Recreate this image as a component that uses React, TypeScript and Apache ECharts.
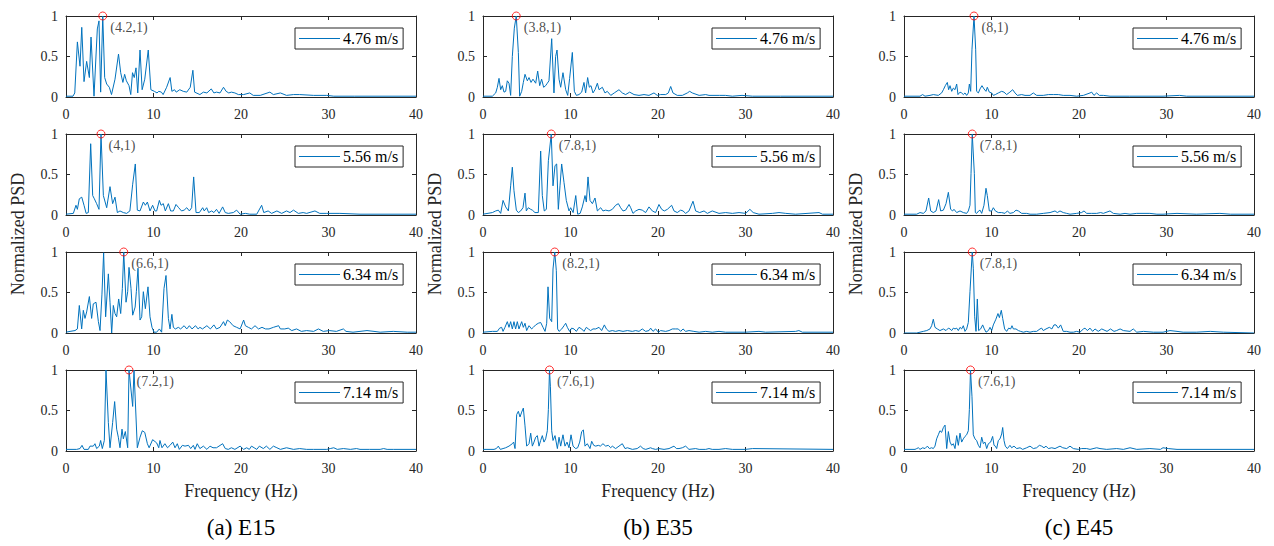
import React, { useEffect, useRef } from 'react';
import * as echarts from 'echarts';

const captions = ['(a) E15', '(b) E35', '(c) E45'];
const speeds = ['4.76 m/s', '5.56 m/s', '6.34 m/s', '7.14 m/s'];
const xTicks = { min: 0, max: 40, interval: 10 };
const yTicks = { min: 0, max: 1, interval: 0.5 };
// peak frequency per column (E15, E35, E45) and row (speed)
const peakFreqs = [
  [4.2, 4, 6.6, 7.2],
  [3.8, 7.8, 8.2, 7.6],
  [8, 7.8, 7.8, 7.6],
];

// ---- E15 ----
const e15_476 = [[0,0.01],[0.8,0.01],[1.0,0.05],[1.3,0.68],[1.6,0.38],[1.8,0.86],[2.06,0.19],[2.36,0.44],[2.67,0.24],[2.86,0.74],[3.2,0.01],[3.58,0.84],[3.77,0.94],[3.96,0.06],[4.2,1.0],[4.42,0.24],[4.65,0.16],[4.95,0.12],[5.2,0.03],[5.6,0.22],[6.0,0.53],[6.25,0.3],[6.5,0.18],[6.7,0.28],[6.9,0.2],[7.2,0.14],[7.4,0.03],[7.6,0.3],[7.8,0.24],[8.0,0.36],[8.2,0.05],[8.46,0.58],[8.7,0.09],[9.0,0.22],[9.4,0.58],[9.7,0.09],[10.1,0.07],[10.4,0.05],[10.6,0.07],[10.9,0.06],[11.1,0.03],[11.5,0.12],[11.9,0.24],[12.1,0.07],[12.4,0.09],[12.6,0.06],[13.0,0.09],[13.4,0.07],[13.8,0.06],[14.2,0.12],[14.5,0.33],[14.7,0.06],[15.3,0.03],[15.7,0.06],[16.1,0.05],[16.6,0.1],[16.9,0.05],[17.2,0.06],[17.6,0.05],[18.0,0.12],[18.3,0.07],[18.6,0.05],[18.9,0.06],[19.3,0.05],[19.7,0.03],[20.3,0.03],[21.0,0.05],[21.4,0.02],[22.2,0.02],[23.3,0.06],[23.7,0.03],[24.5,0.05],[25.2,0.02],[26.0,0.03],[26.7,0.03],[28.3,0.02],[29.8,0.02],[30.6,0.01],[33,0.01],[36,0.01],[40,0.01]];
const e15_556 = [[0,0.01],[0.84,0.02],[1.14,0.12],[1.3,0.07],[1.52,0.2],[1.8,0.22],[2.06,0.12],[2.3,0.02],[2.55,0.03],[2.82,0.88],[3.05,0.24],[3.24,0.2],[3.5,0.14],[3.77,0.07],[4.0,1.0],[4.27,0.24],[4.65,0.09],[5.03,0.35],[5.33,0.14],[5.6,0.22],[5.87,0.03],[6.17,0.05],[6.55,0.03],[6.93,0.02],[7.3,0.05],[7.62,0.38],[7.92,0.63],[8.15,0.06],[8.46,0.05],[8.84,0.16],[9.07,0.12],[9.3,0.16],[9.6,0.05],[9.9,0.12],[10.17,0.05],[10.36,0.05],[10.67,0.18],[10.86,0.12],[11.12,0.14],[11.35,0.05],[11.7,0.14],[11.96,0.05],[12.27,0.05],[12.57,0.13],[12.88,0.09],[13.2,0.05],[13.5,0.06],[13.8,0.09],[14.1,0.05],[14.36,0.09],[14.59,0.47],[14.86,0.03],[15.24,0.03],[15.62,0.09],[15.8,0.05],[16.08,0.09],[16.3,0.03],[16.65,0.05],[16.9,0.03],[17.2,0.07],[17.5,0.02],[17.9,0.1],[18.2,0.03],[18.55,0.02],[19.12,0.03],[19.5,0.06],[19.9,0.01],[20.5,0.02],[21.0,0.01],[21.8,0.01],[22.36,0.12],[22.6,0.03],[23.1,0.05],[23.5,0.02],[24.1,0.05],[24.65,0.02],[25.2,0.05],[25.6,0.03],[26.0,0.06],[26.55,0.02],[27.1,0.03],[27.5,0.02],[28.45,0.05],[29.0,0.02],[29.8,0.02],[31.3,0.02],[33.6,0.01],[40,0.01]];
const e15_634 = [[0,0.01],[0.46,0.02],[1.03,0.03],[1.3,0.05],[1.52,0.34],[1.79,0.05],[1.98,0.28],[2.17,0.18],[2.36,0.26],[2.67,0.45],[2.93,0.18],[3.12,0.36],[3.43,0.38],[3.7,0.14],[3.89,0.03],[4.11,0.48],[4.3,0.99],[4.53,0.2],[4.84,0.73],[5.03,0.38],[5.22,0.0],[5.41,0.34],[5.6,0.24],[5.79,0.2],[6.02,0.42],[6.25,0.24],[6.44,0.55],[6.6,1.0],[6.86,0.38],[7.05,0.51],[7.2,0.81],[7.43,0.55],[7.62,0.22],[7.9,0.32],[8.04,0.51],[8.23,0.8],[8.46,0.16],[8.65,0.2],[8.84,0.51],[9.07,0.3],[9.37,0.57],[9.6,0.2],[9.83,0.07],[10.06,0.01],[10.36,0.01],[10.67,0.05],[10.93,0.01],[11.2,0.55],[11.43,0.71],[11.7,0.18],[11.89,0.05],[12.1,0.23],[12.27,0.07],[12.5,0.05],[12.84,0.07],[13.1,0.05],[13.5,0.09],[13.8,0.05],[14.1,0.09],[14.4,0.05],[14.8,0.09],[15.1,0.05],[15.3,0.07],[15.6,0.05],[16.1,0.09],[16.5,0.05],[16.9,0.1],[17.2,0.05],[17.6,0.07],[18.0,0.14],[18.2,0.09],[18.44,0.16],[18.7,0.14],[19.1,0.09],[19.5,0.07],[19.9,0.05],[20.3,0.16],[20.5,0.09],[20.84,0.07],[21.2,0.05],[21.6,0.09],[22.0,0.05],[22.4,0.07],[22.8,0.05],[23.2,0.05],[23.7,0.07],[24.3,0.09],[24.5,0.05],[25.0,0.05],[25.4,0.06],[25.8,0.03],[26.35,0.05],[26.9,0.02],[27.5,0.03],[28.3,0.02],[28.85,0.05],[29.4,0.02],[30.1,0.03],[30.9,0.02],[31.7,0.05],[32.0,0.02],[32.8,0.01],[33.6,0.02],[34.4,0.03],[35.2,0.02],[35.9,0.01],[37.4,0.02],[39,0.01],[40,0.01]];
const e15_714 = [[0,0.02],[1.22,0.02],[1.6,0.03],[1.83,0.07],[2.06,0.02],[2.55,0.02],[2.74,0.06],[3.12,0.06],[3.31,0.09],[3.5,0.03],[3.81,0.06],[3.96,0.13],[4.15,0.03],[4.38,0.13],[4.57,1.0],[4.84,0.35],[5.03,0.04],[5.33,0.35],[5.56,0.61],[5.79,0.27],[5.98,0.17],[6.17,0.04],[6.4,0.27],[6.55,0.15],[6.78,0.24],[7.05,0.04],[7.2,1.0],[7.62,0.55],[7.77,1.0],[8.15,0.04],[8.46,0.17],[8.72,0.25],[9.0,0.23],[9.3,0.09],[9.5,0.04],[9.9,0.14],[10.36,0.1],[10.6,0.04],[10.74,0.13],[10.97,0.04],[11.3,0.09],[11.6,0.04],[11.89,0.07],[12.2,0.11],[12.46,0.04],[12.72,0.09],[12.95,0.02],[13.3,0.07],[13.6,0.06],[14.0,0.07],[14.25,0.03],[14.55,0.07],[14.74,0.02],[15.0,0.09],[15.3,0.03],[15.7,0.06],[16.1,0.02],[16.46,0.06],[16.8,0.04],[17.2,0.04],[17.9,0.09],[18.2,0.03],[18.55,0.02],[18.9,0.04],[19.3,0.02],[19.9,0.06],[20.3,0.02],[20.65,0.04],[20.95,0.02],[21.2,0.06],[21.5,0.04],[21.8,0.02],[22.1,0.06],[22.55,0.03],[22.9,0.06],[23.3,0.02],[23.7,0.06],[24.1,0.04],[24.5,0.02],[25.2,0.04],[26.0,0.02],[26.7,0.03],[27.5,0.02],[28.3,0.02],[29.8,0.02],[30.2,0.03],[30.6,0.04],[31.0,0.02],[31.7,0.03],[32.5,0.02],[33.2,0.03],[33.6,0.02],[34.7,0.02],[35.9,0.02],[36.3,0.03],[36.7,0.02],[37.4,0.02],[40,0.02]];

// ---- E35 ----
const e35_476 = [[0,0.01],[1.07,0.01],[1.45,0.05],[1.64,0.12],[1.83,0.23],[2.02,0.09],[2.21,0.14],[2.4,0.06],[2.59,0.07],[2.78,0.2],[2.97,0.17],[3.16,0.02],[3.35,0.5],[3.58,0.85],[3.8,1.0],[4.04,0.55],[4.19,0.01],[4.42,0.07],[4.61,0.18],[4.8,0.28],[5.07,0.2],[5.26,0.24],[5.49,0.18],[5.71,0.22],[6.02,0.17],[6.25,0.32],[6.48,0.14],[6.7,0.22],[6.93,0.12],[7.16,0.14],[7.35,0.17],[7.54,0.2],[7.85,0.72],[8.11,0.05],[8.3,0.5],[8.46,0.58],[8.69,0.22],[8.88,0.12],[9.14,0.3],[9.45,0.09],[9.68,0.02],[9.9,0.23],[10.21,0.55],[10.44,0.07],[10.67,0.02],[10.97,0.03],[11.28,0.06],[11.54,0.18],[11.73,0.05],[11.96,0.24],[12.15,0.12],[12.34,0.14],[12.57,0.05],[12.8,0.09],[13.07,0.17],[13.26,0.09],[13.64,0.12],[13.94,0.05],[14.2,0.07],[14.6,0.02],[15.0,0.05],[15.54,0.09],[15.92,0.05],[16.3,0.03],[16.76,0.06],[17.26,0.03],[17.83,0.02],[18.4,0.03],[18.97,0.02],[19.54,0.05],[19.92,0.02],[20.3,0.03],[20.88,0.03],[21.18,0.05],[21.45,0.13],[21.71,0.05],[22.2,0.02],[22.78,0.02],[23.35,0.05],[23.62,0.07],[23.92,0.05],[24.7,0.02],[25.45,0.03],[25.83,0.02],[27.0,0.02],[27.7,0.02],[28.5,0.01],[29.6,0.02],[30.8,0.01],[34,0.01],[40,0.01]];
const e35_556 = [[0,0.01],[1.07,0.03],[1.45,0.05],[1.75,0.06],[2.02,0.02],[2.29,0.18],[2.59,0.1],[2.9,0.05],[3.16,0.36],[3.35,0.59],[3.54,0.3],[3.81,0.06],[4.04,0.03],[4.3,0.05],[4.57,0.09],[4.8,0.27],[4.95,0.05],[5.18,0.09],[5.45,0.07],[5.64,0.06],[5.94,0.03],[6.32,0.03],[6.59,0.79],[6.78,0.24],[7.0,0.05],[7.24,0.07],[7.47,0.67],[7.8,1.0],[8.0,0.36],[8.23,0.61],[8.42,0.63],[8.61,0.07],[8.8,0.36],[8.99,0.63],[9.26,0.4],[9.52,0.18],[9.83,0.05],[10.02,0.09],[10.3,0.03],[10.6,0.24],[10.82,0.01],[11.1,0.02],[11.35,0.1],[11.66,0.24],[11.81,0.16],[12.0,0.47],[12.23,0.18],[12.5,0.14],[12.8,0.21],[13.07,0.05],[13.45,0.09],[13.71,0.05],[14.02,0.06],[14.4,0.05],[14.78,0.07],[15.16,0.12],[15.47,0.14],[15.73,0.09],[16.0,0.05],[16.3,0.06],[16.69,0.13],[16.88,0.09],[17.14,0.02],[17.45,0.05],[17.83,0.07],[18.2,0.06],[18.59,0.03],[18.97,0.1],[19.35,0.05],[19.73,0.03],[20.11,0.13],[20.42,0.07],[20.72,0.05],[21.07,0.07],[21.56,0.12],[21.83,0.05],[22.2,0.03],[22.59,0.06],[22.86,0.05],[23.16,0.02],[23.54,0.05],[24.0,0.17],[24.3,0.05],[24.76,0.03],[25.26,0.05],[25.64,0.02],[26.2,0.05],[26.97,0.02],[27.73,0.03],[28.5,0.02],[29.26,0.03],[30.02,0.02],[30.5,0.07],[30.88,0.03],[31.54,0.01],[33.07,0.02],[33.83,0.03],[34.6,0.02],[35.73,0.01],[38.4,0.03],[38.8,0.01],[40,0.01]];
const e35_634 = [[0,0.01],[1.07,0.02],[1.64,0.02],[1.9,0.06],[2.13,0.07],[2.29,0.02],[2.51,0.07],[2.78,0.14],[2.97,0.07],[3.16,0.14],[3.35,0.05],[3.54,0.14],[3.73,0.05],[3.92,0.14],[4.11,0.05],[4.42,0.14],[4.61,0.07],[4.8,0.12],[4.99,0.03],[5.26,0.09],[5.56,0.05],[5.75,0.07],[6.02,0.1],[6.32,0.12],[6.59,0.13],[6.86,0.07],[7.09,0.02],[7.28,0.12],[7.43,0.57],[7.62,0.18],[7.85,0.14],[8.0,0.79],[8.2,1.0],[8.38,0.77],[8.53,0.05],[8.69,0.02],[9.0,0.05],[9.26,0.09],[9.45,0.12],[9.64,0.07],[9.9,0.02],[10.13,0.06],[10.4,0.05],[10.67,0.02],[10.97,0.07],[11.28,0.05],[11.54,0.02],[11.81,0.07],[12.04,0.05],[12.3,0.03],[12.57,0.05],[12.88,0.05],[13.26,0.07],[13.56,0.03],[13.87,0.1],[14.1,0.05],[14.4,0.02],[14.78,0.03],[15.16,0.02],[15.54,0.03],[16.0,0.02],[16.5,0.03],[17.07,0.02],[17.45,0.03],[17.83,0.02],[18.2,0.05],[18.59,0.02],[18.97,0.03],[19.16,0.06],[19.43,0.02],[19.73,0.05],[20.04,0.01],[20.3,0.03],[20.88,0.02],[21.26,0.03],[21.64,0.05],[22.02,0.05],[22.32,0.05],[22.59,0.02],[22.86,0.05],[23.16,0.02],[23.54,0.03],[24.1,0.02],[24.7,0.01],[25.45,0.02],[26.2,0.01],[26.97,0.02],[27.73,0.01],[30,0.01],[31.54,0.02],[32.3,0.01],[35.73,0.02],[36.1,0.03],[36.5,0.01],[40,0.01]];
const e35_714 = [[0,0.02],[1.26,0.02],[1.52,0.03],[1.75,0.06],[1.98,0.02],[2.29,0.03],[2.59,0.04],[2.97,0.06],[3.35,0.09],[3.5,0.11],[3.66,0.03],[3.85,0.45],[4.04,0.49],[4.23,0.42],[4.42,0.48],[4.61,0.53],[4.8,0.31],[4.99,0.06],[5.26,0.09],[5.45,0.22],[5.64,0.06],[5.83,0.11],[6.02,0.17],[6.21,0.19],[6.4,0.06],[6.59,0.13],[6.78,0.19],[6.97,0.11],[7.16,0.15],[7.35,0.25],[7.47,0.51],[7.6,1.0],[7.7,0.8],[7.85,0.25],[8.0,0.13],[8.23,0.19],[8.5,0.03],[8.69,0.17],[8.88,0.06],[9.14,0.2],[9.37,0.06],[9.6,0.11],[9.83,0.04],[10.06,0.2],[10.29,0.06],[10.59,0.03],[10.82,0.04],[11.05,0.11],[11.28,0.24],[11.47,0.26],[11.66,0.06],[11.92,0.09],[12.23,0.03],[12.42,0.12],[12.65,0.07],[12.88,0.06],[13.18,0.07],[13.41,0.06],[13.71,0.09],[14.02,0.06],[14.32,0.07],[14.59,0.04],[14.78,0.06],[15.16,0.03],[15.54,0.06],[15.92,0.09],[16.23,0.03],[16.5,0.04],[17.07,0.02],[17.62,0.03],[18.0,0.06],[18.3,0.03],[18.6,0.02],[19.16,0.04],[19.35,0.03],[19.73,0.02],[20.11,0.03],[20.69,0.02],[21.26,0.03],[21.83,0.06],[22.1,0.03],[22.4,0.03],[22.78,0.04],[23.16,0.06],[23.54,0.02],[24.3,0.03],[24.7,0.02],[25.45,0.02],[25.83,0.03],[26.2,0.02],[26.97,0.02],[27.73,0.03],[28.5,0.02],[30,0.02],[30.8,0.03],[40,0.02]];

// ---- E45 ----
const e45_476 = [[0,0.01],[1.83,0.01],[2.13,0.03],[2.4,0.01],[2.97,0.02],[3.35,0.03],[3.92,0.02],[4.3,0.05],[4.5,0.09],[4.72,0.14],[4.95,0.18],[5.1,0.09],[5.26,0.14],[5.45,0.07],[5.64,0.11],[5.83,0.09],[6.02,0.16],[6.17,0.03],[6.4,0.06],[6.59,0.05],[6.78,0.03],[6.97,0.05],[7.16,0.02],[7.35,0.05],[7.47,0.16],[7.62,0.07],[7.77,0.59],[8.0,1.0],[8.19,0.59],[8.3,0.07],[8.5,0.05],[8.69,0.1],[8.91,0.14],[9.14,0.1],[9.37,0.07],[9.52,0.12],[9.75,0.06],[10.02,0.05],[10.21,0.02],[10.44,0.03],[10.78,0.05],[11.16,0.07],[11.43,0.06],[11.73,0.03],[12.1,0.06],[12.42,0.09],[12.69,0.05],[12.95,0.02],[13.45,0.03],[13.83,0.02],[14.4,0.02],[14.78,0.05],[15.16,0.02],[15.92,0.02],[16.5,0.03],[17.07,0.03],[17.64,0.03],[18.2,0.02],[18.97,0.02],[19.73,0.01],[20.5,0.02],[21.26,0.05],[21.45,0.06],[21.71,0.02],[22.02,0.05],[22.32,0.02],[22.78,0.02],[23.54,0.01],[25.8,0.01],[29.6,0.01],[31.5,0.02],[32.3,0.01],[40,0.01]];
const e45_556 = [[0,0.01],[1.45,0.01],[1.83,0.03],[2.21,0.02],[2.51,0.05],[2.82,0.21],[3.05,0.05],[3.35,0.03],[3.66,0.05],[3.96,0.19],[4.19,0.05],[4.5,0.06],[4.8,0.14],[5.07,0.28],[5.33,0.07],[5.56,0.05],[5.71,0.07],[6.02,0.03],[6.4,0.05],[6.78,0.03],[7.16,0.02],[7.35,0.05],[7.54,0.12],[7.66,0.51],[7.8,1.0],[8.04,0.51],[8.15,0.03],[8.3,0.02],[8.53,0.05],[8.69,0.06],[8.88,0.02],[9.14,0.12],[9.37,0.33],[9.52,0.24],[9.75,0.05],[10.02,0.05],[10.21,0.09],[10.44,0.05],[10.78,0.03],[11.16,0.03],[11.54,0.02],[11.81,0.05],[12.11,0.02],[12.5,0.03],[12.8,0.06],[13.07,0.05],[13.45,0.02],[14.02,0.02],[14.4,0.01],[15.16,0.01],[15.92,0.02],[16.69,0.03],[17.26,0.05],[17.52,0.03],[17.83,0.05],[18.2,0.03],[18.59,0.02],[18.97,0.01],[19.73,0.02],[20.3,0.03],[20.57,0.05],[20.88,0.02],[21.45,0.02],[22.02,0.02],[22.48,0.03],[22.78,0.02],[23.54,0.05],[23.92,0.02],[24.7,0.01],[25.26,0.02],[25.83,0.01],[26.6,0.02],[28.1,0.02],[28.9,0.01],[29.6,0.01],[31.2,0.02],[33.4,0.01],[36.1,0.02],[37.3,0.01],[40,0.01]];
const e45_634 = [[0,0.0],[1.45,0.0],[2.21,0.02],[2.6,0.03],[2.97,0.05],[3.16,0.09],[3.35,0.17],[3.54,0.07],[3.81,0.05],[4.11,0.03],[4.5,0.05],[4.8,0.03],[5.07,0.06],[5.26,0.05],[5.45,0.03],[5.64,0.06],[5.83,0.05],[6.02,0.06],[6.21,0.03],[6.4,0.07],[6.59,0.05],[6.78,0.09],[6.97,0.02],[7.16,0.05],[7.35,0.13],[7.54,0.51],[7.8,1.0],[7.92,0.8],[8.08,0.2],[8.23,0.02],[8.38,0.42],[8.53,0.03],[8.76,0.05],[8.99,0.1],[9.14,0.06],[9.37,0.01],[9.64,0.03],[9.83,0.07],[10.02,0.03],[10.21,0.1],[10.5,0.17],[10.74,0.24],[10.9,0.19],[11.12,0.28],[11.28,0.18],[11.5,0.05],[11.73,0.02],[11.96,0.06],[12.19,0.05],[12.34,0.09],[12.5,0.05],[12.8,0.05],[13.07,0.03],[13.33,0.02],[13.64,0.01],[14.02,0.02],[14.4,0.01],[14.78,0.02],[15.16,0.02],[15.54,0.05],[15.73,0.06],[15.92,0.03],[16.23,0.05],[16.61,0.07],[16.9,0.05],[17.14,0.1],[17.37,0.1],[17.64,0.06],[17.9,0.1],[18.2,0.02],[18.59,0.02],[18.97,0.01],[19.35,0.01],[19.73,0.02],[20.11,0.01],[20.5,0.05],[20.69,0.06],[20.95,0.03],[21.26,0.06],[21.56,0.02],[21.83,0.05],[22.2,0.02],[22.6,0.05],[23.2,0.02],[23.6,0.05],[24.0,0.02],[24.3,0.03],[24.7,0.05],[25.07,0.03],[25.83,0.02],[26.2,0.05],[26.6,0.01],[27.37,0.02],[28.5,0.01],[29.6,0.01],[30.4,0.03],[31.2,0.02],[31.9,0.01],[33.4,0.01],[35,0.02],[36.5,0.01],[40,0.0]];
const e45_714 = [[0,0.02],[1.26,0.02],[1.45,0.03],[1.64,0.04],[1.83,0.02],[2.13,0.04],[2.4,0.03],[2.67,0.06],[2.9,0.03],[3.16,0.04],[3.35,0.03],[3.54,0.06],[3.73,0.15],[3.92,0.2],[4.11,0.25],[4.3,0.23],[4.5,0.29],[4.69,0.32],[4.88,0.03],[5.07,0.24],[5.26,0.11],[5.45,0.07],[5.64,0.09],[5.83,0.03],[6.02,0.19],[6.21,0.07],[6.4,0.22],[6.59,0.11],[6.78,0.15],[6.97,0.18],[7.16,0.2],[7.35,0.25],[7.47,0.51],[7.6,1.0],[7.77,0.67],[7.92,0.2],[8.11,0.15],[8.3,0.13],[8.5,0.07],[8.69,0.04],[8.88,0.17],[9.07,0.09],[9.26,0.11],[9.45,0.03],[9.64,0.09],[9.9,0.11],[10.13,0.18],[10.29,0.07],[10.44,0.06],[10.59,0.03],[10.78,0.13],[10.97,0.15],[11.16,0.21],[11.28,0.29],[11.43,0.13],[11.58,0.06],[11.81,0.03],[12.11,0.07],[12.3,0.04],[12.57,0.06],[12.88,0.03],[13.26,0.04],[13.56,0.02],[14.02,0.04],[14.4,0.06],[14.78,0.03],[15.16,0.04],[15.47,0.07],[15.73,0.06],[16.0,0.04],[16.23,0.06],[16.5,0.03],[16.88,0.04],[17.26,0.03],[17.83,0.06],[18.14,0.04],[18.59,0.03],[18.97,0.06],[19.35,0.03],[19.92,0.02],[20.3,0.03],[20.88,0.03],[21.26,0.02],[22.02,0.04],[22.4,0.03],[23.16,0.02],[24.3,0.03],[25.07,0.02],[25.83,0.04],[26.6,0.02],[28.1,0.03],[29.3,0.02],[29.6,0.04],[30.2,0.03],[31.2,0.02],[40,0.02]];

const psd = [
  [e15_476, e15_556, e15_634, e15_714],
  [e35_476, e35_556, e35_634, e35_714],
  [e45_476, e45_556, e45_634, e45_714],
];

const FONT = "'Liberation Serif', 'Times New Roman', serif";
const AXIS = '#262626';
const BLUE = '#0072BD';

function buildOption() {
  const colLeft = [66, 483, 904];
  const rowTop = [16, 134, 252, 370];
  const W = 350;
  const H = 81;
  const grid: any[] = [];
  const xAxis: any[] = [];
  const yAxis: any[] = [];
  const series: any[] = [];
  const legend: any[] = [];
  const graphic: any[] = [];

  for (let c = 0; c < 3; c++) {
    for (let r = 0; r < 4; r++) {
      const g = grid.length;
      grid.push({ left: colLeft[c], top: rowTop[r], width: W, height: H, containLabel: false });
      const baseX = {
        type: 'value', gridIndex: g, min: xTicks.min, max: xTicks.max, interval: xTicks.interval,
        splitLine: { show: false },
        axisLine: { show: true, onZero: false, lineStyle: { color: AXIS, width: 1 } },
        axisTick: { show: true, inside: true, length: 4, lineStyle: { color: AXIS } },
      };
      xAxis.push({ ...baseX, position: 'bottom',
        axisLabel: { show: true, fontFamily: FONT, fontSize: 14, color: AXIS, margin: 10 } });
      xAxis.push({ ...baseX, position: 'top', axisLabel: { show: false } });
      const baseY = {
        type: 'value', gridIndex: g, min: yTicks.min, max: yTicks.max, interval: yTicks.interval,
        splitLine: { show: false },
        axisLine: { show: true, onZero: false, lineStyle: { color: AXIS, width: 1 } },
        axisTick: { show: true, inside: true, length: 4, lineStyle: { color: AXIS } },
      };
      yAxis.push({ ...baseY, position: 'left',
        axisLabel: { show: true, fontFamily: FONT, fontSize: 14, color: AXIS, margin: 8 } });
      yAxis.push({ ...baseY, position: 'right', axisLabel: { show: false } });

      series.push({
        name: speeds[r], type: 'line', xAxisIndex: 2 * g, yAxisIndex: 2 * g,
        data: psd[c][r], symbol: 'none', showSymbol: false,
        lineStyle: { color: BLUE, width: 1 }, itemStyle: { color: BLUE }, z: 2,
      });
      const pf = peakFreqs[c][r];
      series.push({
        name: 'peak', type: 'scatter', xAxisIndex: 2 * g, yAxisIndex: 2 * g,
        data: [[pf, 1]], symbol: 'circle', symbolSize: 8, clip: false, z: 5,
        itemStyle: { color: 'rgba(0,0,0,0)', borderColor: '#FF0000', borderWidth: 1 },
        label: {
          show: true, position: 'right', distance: 3, offset: [0, 11],
          formatter: `(${pf},1)`, fontFamily: FONT, fontSize: 14, color: '#1a1a1a',
        },
        emphasis: { disabled: true },
      });
      legend.push({
        left: colLeft[c] + 229, top: rowTop[r] + 12,
        data: [speeds[r]], selectedMode: false,
        icon: 'rect', itemWidth: 41, itemHeight: 1.2, itemGap: 0,
        padding: [2, 5, 2, 4],
        borderColor: AXIS, borderWidth: 1, borderRadius: 0, backgroundColor: '#fff',
        textStyle: { fontFamily: FONT, fontSize: 16, color: '#000', padding: [0, 0, 0, -2], lineHeight: 17 },
      });
    }
    const cx = colLeft[c] + W / 2;
    graphic.push({
      type: 'text', x: cx, y: 491,
      style: { text: 'Frequency (Hz)', font: `18px ${FONT}`, fill: AXIS,
        textAlign: 'center', textVerticalAlign: 'middle', align: 'center', verticalAlign: 'middle' },
    });
    graphic.push({
      type: 'text', x: cx, y: 527,
      style: { text: captions[c], font: `23px ${FONT}`, fill: '#000',
        textAlign: 'center', textVerticalAlign: 'middle', align: 'center', verticalAlign: 'middle' },
    });
    graphic.push({
      type: 'text', x: colLeft[c] - 48, y: 234, rotation: Math.PI / 2,
      style: { text: 'Normalized PSD', font: `18px ${FONT}`, fill: AXIS,
        textAlign: 'center', textVerticalAlign: 'middle', align: 'center', verticalAlign: 'middle' },
    });
  }

  return {
    animation: false,
    backgroundColor: '#fff',
    grid, xAxis, yAxis, series, legend, graphic,
    tooltip: { show: false },
  };
}

export default function App() {
  const ref = useRef<HTMLDivElement>(null);
  useEffect(() => {
    document.body.style.margin = '0';
    if (!ref.current) return;
    const chart = echarts.init(ref.current, undefined, { renderer: 'svg' });
    chart.setOption(buildOption() as any);
    return () => chart.dispose();
  }, []);
  return <div ref={ref} style={{ width: 1274, height: 546, background: '#fff' }} />;
}
